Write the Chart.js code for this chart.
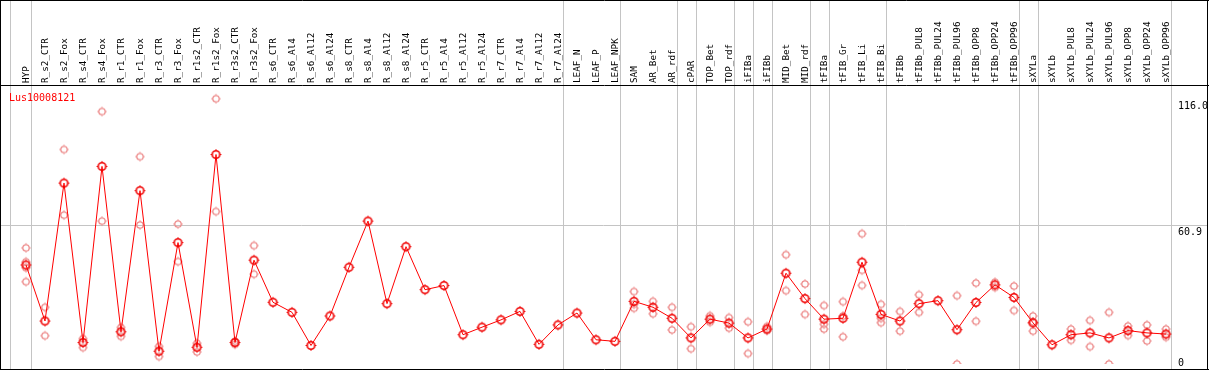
<!DOCTYPE html>
<html><head><meta charset="utf-8">
<script src="https://cdn.jsdelivr.net/npm/chart.js@4.4.0/dist/chart.umd.min.js"></script>
<style>html,body{margin:0;padding:0;background:#fff;overflow:hidden}canvas{display:block}</style>
</head><body>
<canvas id="c" width="1209" height="370"></canvas>
<script>
const categories = ['HYP','R_s2_CTR','R_s2_Fox','R_s4_CTR','R_s4_Fox','R_r1_CTR','R_r1_Fox','R_r3_CTR','R_r3_Fox','R_r1s2_CTR','R_r1s2_Fox','R_r3s2_CTR','R_r3s2_Fox','R_s6_CTR','R_s6_Al4','R_s6_Al12','R_s6_Al24','R_s8_CTR','R_s8_Al4','R_s8_Al12','R_s8_Al24','R_r5_CTR','R_r5_Al4','R_r5_Al12','R_r5_Al24','R_r7_CTR','R_r7_Al4','R_r7_Al12','R_r7_Al24','LEAF_N','LEAF_P','LEAF_NPK','SAM','AR_Bet','AR_rdf','cPAR','TOP_Bet','TOP_rdf','iFIBa','iFIBb','MID_Bet','MID_rdf','tFIBa','tFIB_Gr','tFIB_Li','tFIB_Bi','tFIBb','tFIBb_PUL8','tFIBb_PUL24','tFIBb_PUL96','tFIBb_OPP8','tFIBb_OPP24','tFIBb_OPP96','sXYLa','sXYLb','sXYLb_PUL8','sXYLb_PUL24','sXYLb_PUL96','sXYLb_OPP8','sXYLb_OPP24','sXYLb_OPP96'];

const meanValues = [43.3,18.8,79.1,9.4,86.4,14.1,75.8,5.6,53.1,7.3,91.6,9.4,45.4,27.0,22.6,8.1,21.0,42.3,62.5,26.4,51.3,32.5,34.3,12.8,16.1,19.3,23.0,8.6,17.1,22.3,10.6,9.9,27.4,24.8,20.0,11.4,19.6,17.9,11.4,15.3,39.7,28.6,19.6,20.0,44.5,21.7,18.8,26.4,27.7,15.0,26.9,34.6,29.1,18.0,8.4,12.8,13.6,11.4,14.6,13.6,13.1];

const rep1 = [50.8,24.8,93.8,11.1,110.4,16.0,90.7,7.7,61.2,9.1,116.0,10.0,51.8,
  null,null,null,null,null,null,null,null,null,null,null,null,null,null,null,null,null,null,null,
  31.7,27.4,24.8,16.3,21.1,20.3,18.5,16.4,47.8,35.0,25.6,27.3,57.0,26.1,23.0,30.3,null,29.9,35.4,35.8,34.1,21.0,null,15.3,19.1,22.6,16.6,17.1,15.3];
const rep2 = [44.7,12.4,65.1,7.2,62.5,12.1,60.8,3.3,44.8,5.3,66.7,8.6,39.3,
  null,null,null,null,null,null,null,null,null,null,null,null,null,null,null,null,null,null,null,
  26.1,22.0,14.9,6.7,18.3,15.7,4.6,14.6,32.1,21.7,17.4,21.0,41.0,20.0,14.4,22.6,null,0,18.7,33.5,23.4,18.4,null,10.4,7.6,0,12.5,10.1,11.7];
const rep3 = [42.1,null,null,null,null,null,null,null,null,null,null,null,null,
  null,null,null,null,null,null,null,null,null,null,null,null,null,null,null,null,null,null,null,
  24.4,null,null,null,null,null,null,null,null,null,15.3,11.9,34.4,18.1,null,null,null,null,null,null,null,14.4,null,null,null,null,null,null,null];
const rep4 = [36.0,null,null,null,null,null,null,null,null,null,null,null,null,
  null,null,null,null,null,null,null,null,null,null,null,null,null,null,null,null,null,null,null,
  null,null,null,null,null,null,null,null,null,null,null,null,null,null,null,null,null,null,null,null,null,null,null,null,null,null,null,null,null];

const geneName = 'Lus10008121';
const yTickValues = [116.0, 60.9, 0];
const yTickLabels = ['116.0', '60.9', '0'];
const gridValue = 60.9;
const groupEnds = ['HYP','R_r7_Al24','LEAF_NPK','AR_rdf','cPAR','TOP_rdf','iFIBa','iFIBb','MID_rdf','tFIBa','tFIB_Bi','tFIBb_OPP96','sXYLa','sXYLb_OPP96'];

function makeMarker(color, r, lw) {
  const s = Math.ceil(2 * (r + 2)) + 1;
  const c = document.createElement('canvas');
  c.width = s; c.height = s;
  const g = c.getContext('2d');
  const m = s / 2;
  g.strokeStyle = color; g.lineWidth = lw;
  g.beginPath(); g.arc(m, m, r, 0, Math.PI * 2); g.stroke();
  g.lineWidth = 1;
  g.beginPath();
  g.moveTo(m, m - r); g.lineTo(m, m - r - 1.6);
  g.moveTo(m, m + r); g.lineTo(m, m + r + 1.6);
  g.moveTo(m - r, m); g.lineTo(m - r - 1.6, m);
  g.moveTo(m + r, m); g.lineTo(m + r + 1.6, m);
  g.stroke();
  return c;
}
const meanMarker = makeMarker('#f00000', 3.8, 1.6);
const repMarker = makeMarker('#ee9090', 3.2, 1.3);

const framePlugin = {
  id: 'frame',
  beforeDraw(chart) {
    const {ctx, width, height} = chart;
    const xs = chart.scales.x, ys = chart.scales.y;
    ctx.save();
    ctx.fillStyle = '#fff'; ctx.fillRect(0, 0, width, height);
    ctx.strokeStyle = '#c4c4c4'; ctx.lineWidth = 1;
    ctx.beginPath();
    const first = Math.round(xs.getPixelForValue(0) - 16) + 0.5;
    ctx.moveTo(first, 0); ctx.lineTo(first, height);
    groupEnds.forEach(n => {
      const px = Math.round(xs.getPixelForValue(categories.indexOf(n)) + 4.5) + 0.5;
      ctx.moveTo(px, 0); ctx.lineTo(px, height);
    });
    const gy = Math.round(ys.getPixelForValue(gridValue)) + 0.5;
    ctx.moveTo(0, gy); ctx.lineTo(1207, gy);
    ctx.stroke();
    ctx.restore();
  },
  afterDraw(chart) {
    const {ctx, width} = chart;
    const ys = chart.scales.y;
    ctx.save();
    ctx.strokeStyle = '#000'; ctx.lineWidth = 1;
    ctx.beginPath();
    ctx.moveTo(0, 0.5); ctx.lineTo(width, 0.5);
    ctx.moveTo(0, 85.5); ctx.lineTo(width, 85.5);
    ctx.moveTo(0, 369.5); ctx.lineTo(width, 369.5);
    ctx.moveTo(0.5, 0); ctx.lineTo(0.5, 370);
    ctx.moveTo(1207.5, 0); ctx.lineTo(1207.5, 370);
    ctx.stroke();
    ctx.font = '10px "DejaVu Sans Mono"';
    ctx.textBaseline = 'alphabetic';
    ctx.textAlign = 'left';
    ctx.fillStyle = '#ff0000';
    ctx.fillText(geneName, 9, 101);
    ctx.fillStyle = '#000';
    yTickValues.forEach((v, i) => {
      const py = Math.min(ys.getPixelForValue(v) + 10, 366);
      ctx.fillText(yTickLabels[i], 1178, py);
    });
    ctx.restore();
  }
};

new Chart(document.getElementById('c'), {
  type: 'line',
  data: {
    labels: categories,
    datasets: [
      {data: meanValues, borderColor: '#ff0000', borderWidth: 1, pointStyle: meanMarker, pointRadius: 5, order: 0, clip: 0, tension: 0, fill: false},
      {data: rep1, showLine: false, pointStyle: repMarker, pointRadius: 4, order: 1, clip: 0},
      {data: rep2, showLine: false, pointStyle: repMarker, pointRadius: 4, order: 1, clip: 0},
      {data: rep3, showLine: false, pointStyle: repMarker, pointRadius: 4, order: 1, clip: 0},
      {data: rep4, showLine: false, pointStyle: repMarker, pointRadius: 4, order: 1, clip: 0}
    ]
  },
  options: {
    responsive: false, animation: false, devicePixelRatio: 1, events: [],
    layout: {padding: {left: 16.5, right: 33.5, top: 0, bottom: 0}},
    plugins: {legend: {display: false}, tooltip: {enabled: false}, title: {display: false}},
    scales: {
      x: {type: 'category', position: 'top', offset: true,
          grid: {display: false, drawTicks: false}, border: {display: false},
          ticks: {autoSkip: false, minRotation: 90, maxRotation: 90, padding: 2, labelOffset: 12, color: '#000',
                  font: {family: 'DejaVu Sans Mono', size: 9.3}},
          afterFit(s) { s.height = 85; }},
      y: {display: false, min: 0, max: 122}
    }
  },
  plugins: [framePlugin]
});
</script>
</body></html>
